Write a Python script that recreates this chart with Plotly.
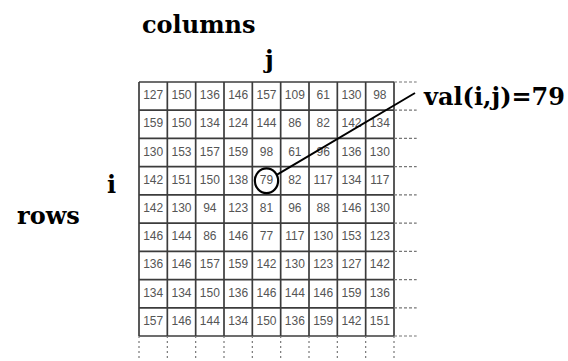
import math
import plotly.graph_objects as go

# pixel values of the 9x9 image block, read row by row
values = [
    [127, 150, 136, 146, 157, 109, 61, 130, 98],
    [159, 150, 134, 124, 144, 86, 82, 142, 134],
    [130, 153, 157, 159, 98, 61, 96, 136, 130],
    [142, 151, 150, 138, 79, 82, 117, 134, 117],
    [142, 130, 94, 123, 81, 96, 88, 146, 130],
    [146, 144, 86, 146, 77, 117, 130, 153, 123],
    [136, 146, 157, 159, 142, 130, 123, 127, 142],
    [134, 134, 150, 136, 146, 144, 146, 159, 136],
    [157, 146, 144, 134, 150, 136, 159, 142, 151],
]
highlight_row, highlight_col = 3, 4

W, H = 568, 361
n_rows = len(values)
n_cols = len(values[0])

# grid placement in pixels
gx0, gx1 = 139, 394
gy0, gy1 = 82, 336
cw = (gx1 - gx0) / n_cols
ch = (gy1 - gy0) / n_rows

serif = "DejaVu Serif"

fig = go.Figure()

xs, ys, txt = [], [], []
for i, row in enumerate(values):
    for j, v in enumerate(row):
        xs.append(j + 0.5)
        ys.append(i + 0.5)
        txt.append(str(v))

fig.add_trace(go.Scatter(
    x=xs, y=ys, text=txt, mode='text',
    textfont=dict(family="Liberation Sans, Arial", size=12, color='#555555'),
    hoverinfo='skip', showlegend=False
))

shapes = []
# solid grid
for k in range(n_cols + 1):
    shapes.append(dict(type='line', x0=k, x1=k, y0=0, y1=n_rows,
                       line=dict(color='#3c3c3c', width=1.7)))
for k in range(n_rows + 1):
    shapes.append(dict(type='line', x0=0, x1=n_cols, y0=k, y1=k,
                       line=dict(color='#3c3c3c', width=1.7)))
# dashed continuation to the right and below
for k in range(n_rows + 1):
    shapes.append(dict(type='line', x0=n_cols, x1=n_cols + 0.8, y0=k, y1=k,
                       line=dict(color='#777777', width=1.2, dash='3px,2px')))
for k in range(n_cols + 1):
    shapes.append(dict(type='line', x0=k, x1=k, y0=n_rows, y1=n_rows + 1.0,
                       line=dict(color='#777777', width=1.2, dash='2px,3px')))

# circle round the highlighted cell
cx, cy = highlight_col + 0.5, highlight_row + 0.5
rx, ry = 0.41, 0.44
shapes.append(dict(type='circle', x0=cx - rx, x1=cx + rx, y0=cy - ry, y1=cy + ry,
                   line=dict(color='black', width=2.2)))

# pointer line from circle to the label
ex, ey = (415 - gx0) / cw, (93 - gy0) / ch
dx, dy = ex - cx, ey - cy
d = math.hypot(dx / rx, dy / ry)
shapes.append(dict(type='line', x0=cx + dx / d, y0=cy + dy / d, x1=ex, y1=ey,
                   line=dict(color='black', width=2)))

def ann(text, px, py, size, xanchor='center'):
    return dict(text=text, x=px / W, y=1 - py / H, xref='paper', yref='paper',
                xanchor=xanchor, yanchor='middle', showarrow=False,
                font=dict(family=serif, size=size, color='black'))

annotations = [
    ann("<b>columns</b>", 199, 24, 24),
    ann("<b>j</b>", 268, 59, 24),
    ann("<b>i</b>", 112, 184, 24),
    ann("<b>rows</b>", 48, 215, 24),
    ann(f"<b>val(i,j)={values[highlight_row][highlight_col]}</b>", 421, 96, 24, xanchor='left'),
]

fig.update_layout(
    width=W, height=H,
    margin=dict(l=0, r=0, t=0, b=0),
    paper_bgcolor='white', plot_bgcolor='white',
    xaxis=dict(range=[-gx0 / cw, (W - gx0) / cw], visible=False, fixedrange=True),
    yaxis=dict(range=[(H - gy0) / ch, -gy0 / ch], visible=False, fixedrange=True),
    shapes=shapes, annotations=annotations,
)

fig.write_html("out.html", config=dict(displayModeBar=False),
               post_script="document.body.style.margin='0';")
